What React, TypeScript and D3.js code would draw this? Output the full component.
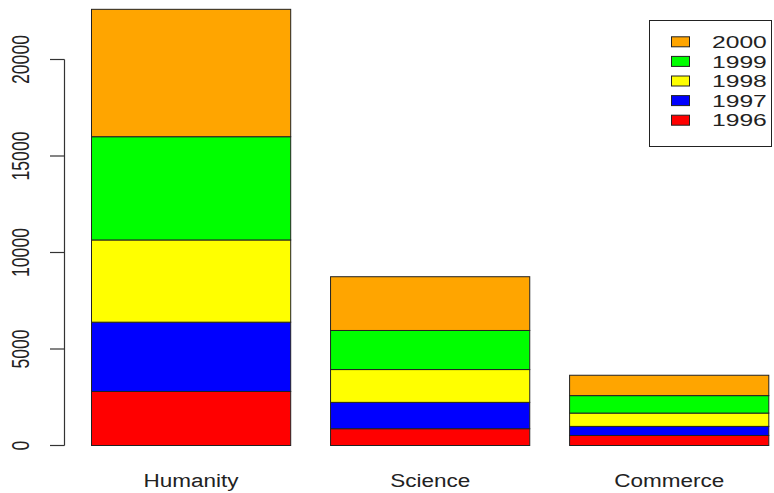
import React from "react";
import * as d3 from "d3";

const categories = ["Humanity", "Science", "Commerce"];
const years = ["1996", "1997", "1998", "1999", "2000"];
const v1996 = [2800, 870, 520];
const v1997 = [3590, 1365, 470];
const v1998 = [4260, 1700, 690];
const v1999 = [5350, 2025, 905];
const v2000 = [6600, 2785, 1055];
const colors = ["#FF0000", "#0000FF", "#FFFF00", "#00FF00", "#FFA500"];
const yTicks = [0, 5000, 10000, 15000, 20000];

const W = 774;
const H = 493;
const FONT = "'Liberation Sans', Arial, sans-serif";

export default function App() {
  const series = [v1996, v1997, v1998, v1999, v2000];
  const table = categories.map((c, i) => {
    const row: any = { cat: c };
    years.forEach((y, k) => (row[y] = series[k][i]));
    return row;
  });
  const stacked = d3.stack().keys(years)(table);

  const y = d3.scaleLinear().domain([0, 20000]).range([445.5, 59.5]);
  const x = d3.scaleLinear().domain([0.2, 3.6]).range([91.5, 768.8]);
  const barLeft = (i: number) => 0.2 + i * 1.2;

  const axisX = 64.5;
  const legendRows = years.slice().reverse();
  const legendColors = colors.slice().reverse();

  return (
    <svg
      width={W}
      height={H}
      style={{ position: "absolute", left: 0, top: 0, background: "#fff" }}
      fontFamily={FONT}
    >
      {stacked.map((layer, k) =>
        layer.map((d, i) => (
          <rect
            key={`${k}-${i}`}
            x={x(barLeft(i))}
            width={x(barLeft(i) + 1) - x(barLeft(i))}
            y={y(d[1])}
            height={y(d[0]) - y(d[1])}
            fill={colors[k]}
            stroke="#222"
            strokeWidth={1}
          />
        ))
      )}

      {/* y axis */}
      <line x1={axisX} x2={axisX} y1={y(0)} y2={y(20000)} stroke="#333" strokeWidth={1.2} />
      {yTicks.map((t) => (
        <g key={t}>
          <line x1={50} x2={axisX} y1={y(t)} y2={y(t)} stroke="#333" strokeWidth={1.2} />
          <text
            transform={`translate(29.3,${y(t)}) scale(1.4,1) rotate(-90)`}
            textAnchor="middle"
            fontSize={17.6}
            fill="#222"
          >
            {t}
          </text>
        </g>
      ))}

      {/* category labels */}
      {categories.map((c, i) => (
        <text
          key={c}
          transform={`translate(${x(barLeft(i) + 0.5)},487.3) scale(1.25,1)`}
          textAnchor="middle"
          fontSize={18}
          fill="#222"
        >
          {c}
        </text>
      ))}

      {/* legend */}
      <rect x={649.5} y={20.5} width={122} height={126} fill="#fff" stroke="#222" strokeWidth={1} />
      {legendRows.map((yr, j) => {
        const cy = 41.8 + j * 19.6;
        return (
          <g key={yr}>
            <rect x={671.5} y={cy - 5} width={18} height={10} fill={legendColors[j]} stroke="#222" strokeWidth={1} />
            <text
              transform={`translate(712,${cy + 6.2}) scale(1.45,1)`}
              fontSize={17}
              fill="#222"
            >
              {yr}
            </text>
          </g>
        );
      })}
    </svg>
  );
}
